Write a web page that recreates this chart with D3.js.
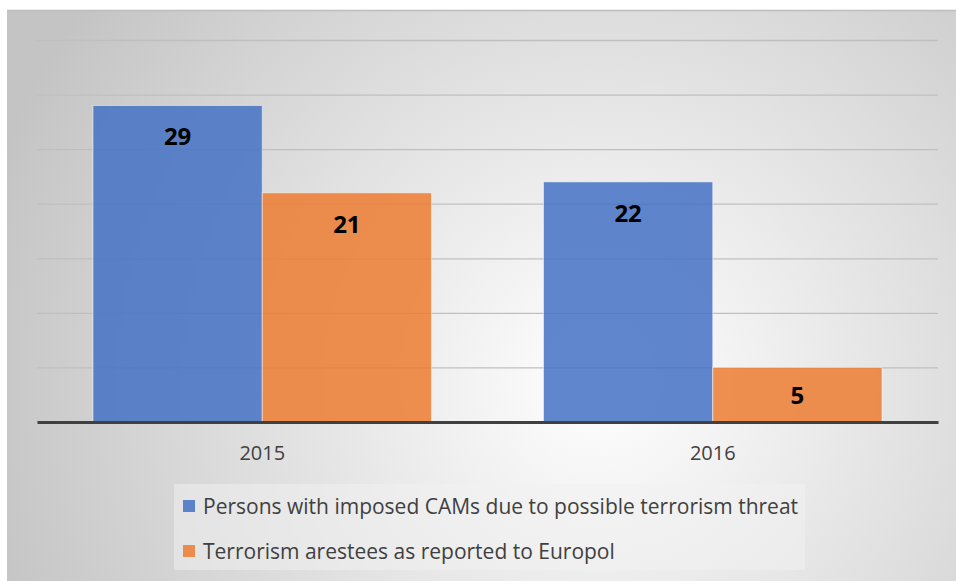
<!DOCTYPE html>
<html>
<head>
<meta charset="utf-8">
<script src="https://cdn.jsdelivr.net/npm/d3@7"></script>
<style>
  body { margin: 0; background: #ffffff; }
  svg { display: block; }
</style>
</head>
<body>
<svg class="chart"></svg>
<script>
var years = ["2015", "2016"];
var seriesNames = ["Persons with imposed CAMs due to possible terrorism threat",
                   "Terrorism arestees as reported to Europol"];
var camValues = [29, 22];
var arresteeValues = [21, 5];
var yTicks = [0, 5, 10, 15, 20, 25, 30, 35];

var screen = { width: 956, height: 581 };

var svg = d3.select(".chart")
            .attr("width", screen.width)
            .attr("height", screen.height);

// background gradient
var defs = svg.append("defs");
var grad = defs.append("radialGradient")
               .attr("id", "bg")
               .attr("gradientUnits", "userSpaceOnUse")
               .attr("cx", 600).attr("cy", 380).attr("r", 640);
grad.append("stop").attr("offset", "0%").attr("stop-color", "#ffffff");
grad.append("stop").attr("offset", "100%").attr("stop-color", "#c4c4c4");

svg.append("rect")
   .attr("x", 7).attr("y", 10)
   .attr("width", screen.width).attr("height", screen.height)
   .attr("fill", "url(#bg)");
svg.append("line")
   .attr("x1", 7).attr("x2", screen.width)
   .attr("y1", 10.5).attr("y2", 10.5)
   .attr("stroke", "#bdbdbd").attr("stroke-width", 1.5);

var margins = { top: 40, left: 37, right: 18 };
var width = screen.width - margins.left - margins.right;
var height = 422 - margins.top;

var xScale = d3.scaleBand()
               .domain(years)
               .range([0, width])
               .paddingInner(0)
               .paddingOuter(0);
var subScale = d3.scaleBand()
                 .domain([0, 1])
                 .range([56, xScale.bandwidth() - 56]);
var yScale = d3.scaleLinear()
               .domain([0, 35])
               .range([height, 0]);
var colors = ["#4472c4", "#ed7d31"];

var plot = svg.append("g")
              .attr("transform", "translate(" + margins.left + "," + margins.top + ")");

// gridlines
var yAxis = d3.axisLeft(yScale)
              .tickValues(yTicks.slice(1))
              .tickSize(-width)
              .tickFormat("");
plot.append("g").classed("grid", true)
    .call(yAxis)
    .call(function(g) { g.select(".domain").remove(); })
    .selectAll("line")
    .attr("stroke", "#bfbfbf")
    .attr("stroke-width", 1.3);

var rows = [];
years.forEach(function(y, i) {
  rows.push({ year: y, s: 0, v: camValues[i] });
  rows.push({ year: y, s: 1, v: arresteeValues[i] });
});

plot.selectAll("rect.bar")
    .data(rows)
    .enter()
    .append("rect")
    .classed("bar", true)
    .attr("x", function(d) { return xScale(d.year) + subScale(d.s); })
    .attr("y", function(d) { return yScale(d.v); })
    .attr("width", subScale.bandwidth())
    .attr("height", function(d) { return height - yScale(d.v); })
    .attr("fill", function(d) { return colors[d.s]; })
    .attr("fill-opacity", 0.85)
    .attr("stroke", "#ffffff")
    .attr("stroke-opacity", 0.5)
    .attr("stroke-width", 1);

plot.selectAll("text.val")
    .data(rows)
    .enter()
    .append("text")
    .classed("val", true)
    .attr("x", function(d) { return xScale(d.year) + subScale(d.s) + subScale.bandwidth() / 2; })
    .attr("y", function(d) {
      var top = yScale(d.v), mid = (top + height) / 2;
      return Math.min(top + 31, mid) + 9;
    })
    .attr("text-anchor", "middle")
    .style("font-family", "'Open Sans', sans-serif")
    .style("font-weight", "bold")
    .style("font-size", "24px")
    .attr("fill", "#000000")
    .text(function(d) { return d.v; });

// x axis
var xAxis = d3.axisBottom(xScale).tickSize(0).tickPadding(24);
var xg = plot.append("g")
    .attr("transform", "translate(0," + height + ")")
    .call(xAxis);
xg.select(".domain").attr("stroke", "#404040").attr("stroke-width", 3);
xg.selectAll("text")
  .style("font-family", "'Open Sans', sans-serif")
  .style("font-size", "20px")
  .attr("fill", "#404040");

// legend
var legend = svg.append("g").attr("transform", "translate(174,484)");
legend.append("rect")
      .attr("width", 631).attr("height", 86)
      .attr("fill", "#f2f2f2").attr("fill-opacity", 0.5);
var items = legend.selectAll("g.item")
                  .data(seriesNames)
                  .enter()
                  .append("g")
                  .classed("item", true)
                  .attr("transform", function(d, i) { return "translate(9," + (16 + i * 45) + ")"; });
items.append("rect")
     .attr("width", 12).attr("height", 12)
     .attr("fill", function(d, i) { return colors[i]; })
     .attr("fill-opacity", 0.85);
items.append("text")
     .attr("x", 20).attr("y", 14)
     .style("font-family", "'Open Sans', sans-serif")
     .style("font-size", "21px")
     .attr("fill", "#404040")
     .text(function(d) { return d; });
</script>
</body>
</html>
